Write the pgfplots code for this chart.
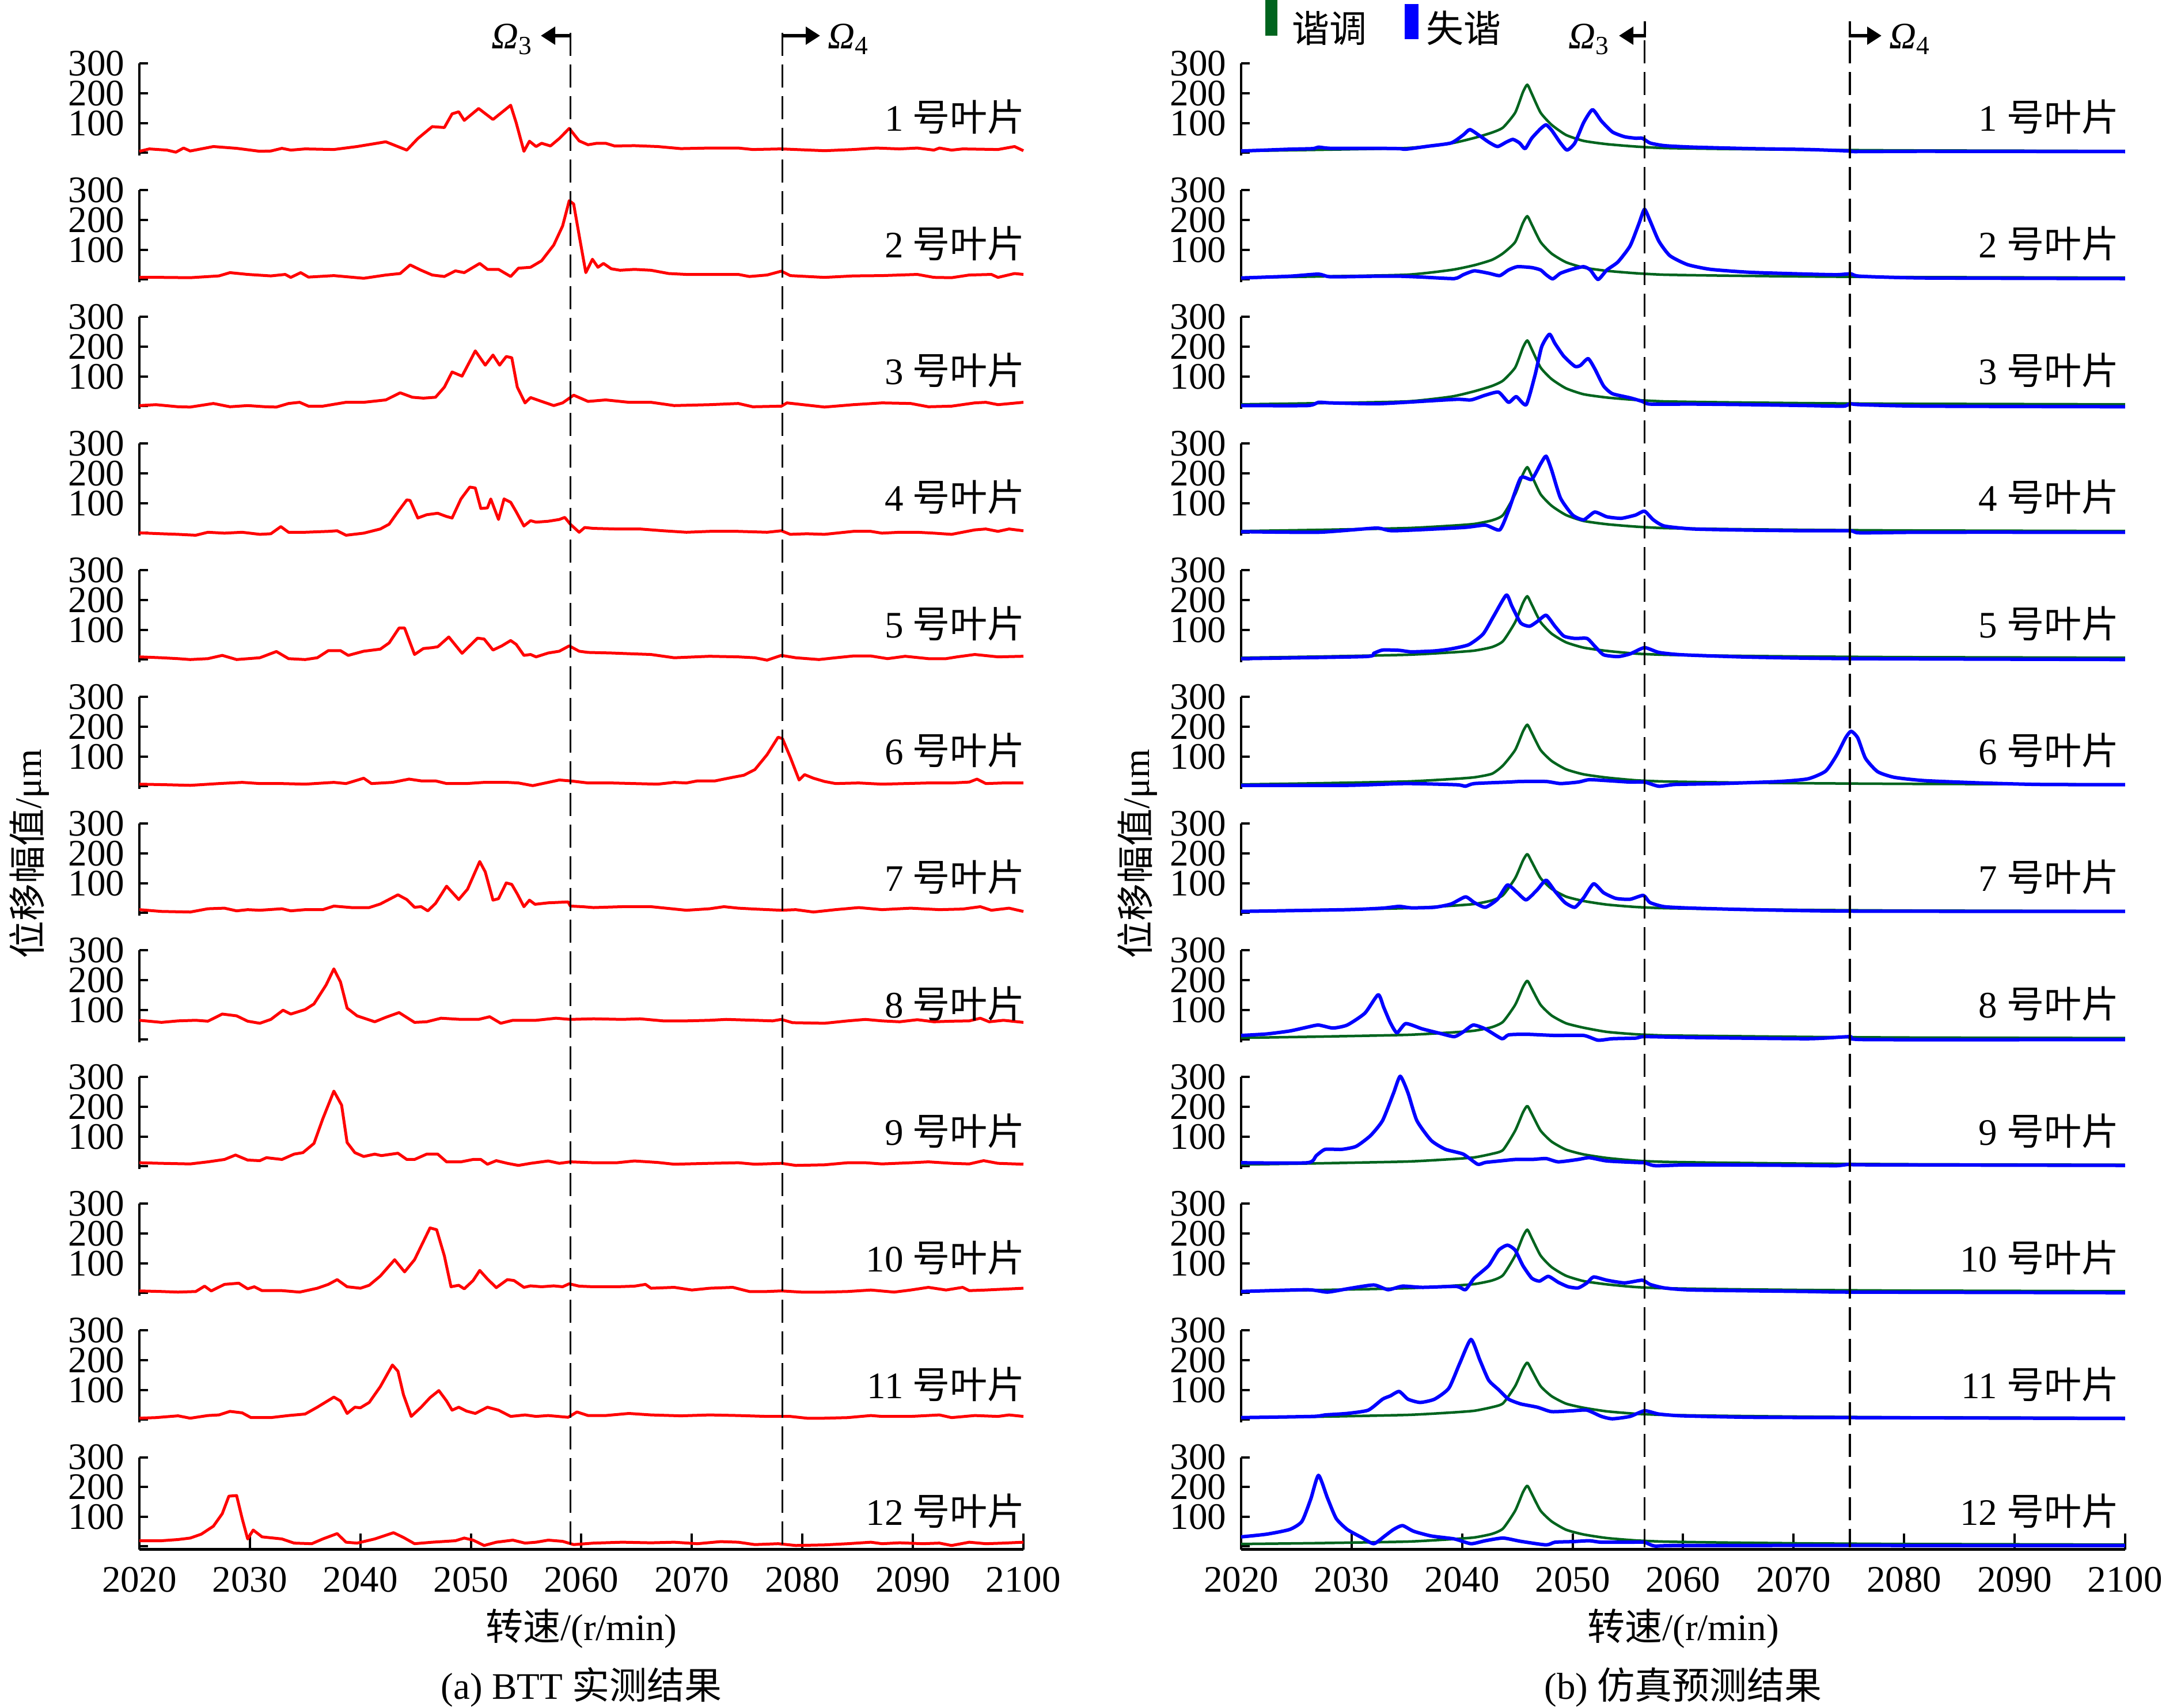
\documentclass[border=0pt]{standalone}
\usepackage{pgfplots}
\pgfplotsset{compat=1.18}
\usepackage{pgfplotstable}
\usepackage{fontspec}
\setmainfont{Liberation Serif}
\newfontfamily\cjk{Noto Sans CJK SC}
\usetikzlibrary{arrows.meta}
\definecolor{myred}{RGB}{255,0,0}
\definecolor{myblue}{RGB}{0,0,255}
\definecolor{mygreen}{RGB}{0,100,30}
\newcommand{\tf}{\fontsize{13}{13}\selectfont}

\pgfplotstableread{
x g1 g2 g3 g4 g5 g6 g7 g8 g9 g10 g11 g12
2020 6 6 6 6 6 6 6 6 6 6 6 8
2027 10 10 10 10 10 10 10 10 10 10 10 11
2035 16 16 16 16 16 16 16 16 16 16 16 16
2039 32 32 32 24 24 24 24 24 24 24 24 24
2041.1 50 48 50 30 30 30 30 30 30 30 30 30
2042.7 68 66 68 42 42 42 42 42 42 42 42 42
2043.7 85 88 86 60 62 70 60 60 55 60 55 60
2044.8 135 126 130 130 126 122 117 117 120 126 113 120
2045.5 204 190 197 197 190 184 176 176 181 190 171 182
2045.9 229 213 221 221 213 207 198 198 203 213 192 204
2046.3 199 185 192 192 185 180 172 172 177 185 167 177
2047.1 135 126 130 130 126 122 117 117 120 126 113 120
2048.1 94 87 91 91 87 85 81 81 83 87 79 84
2049.4 60 58 60 60 58 57 55 55 56 58 54 56
2051 40 40 40 40 40 40 40 40 40 40 40 40
2053.1 29 29 29 29 29 29 28 26 28 29 28 28
2055.7 21 21 21 21 20 20 20 18 19 20 20 20
2058.3 16 16 16 16 16 16 16 14 15 16 16 16
2063.5 13 13 13 13 13 13 13 12 12 13 13 13
2071.3 10 10 10 10 10 10 10 9 9 10 10 10
2080 8 8 8 8 8 8 8 7 7 8 8 8
2090 7 7 7 7 7 7 7 6 6 7 7 7
2100 6 6 6 6 6 6 6 5 5 6 6 6
}\greentab

\tikzset{lbl/.style={anchor=east, inner sep=0pt, font=\tf}}
\pgfplotsset{
  base/.style={
    scale only axis, width=307pt, height=32pt,
    anchor=north west,
    xmin=2020, xmax=2100, ymin=-10, ymax=300,
    axis y line*=left,
    ytick={0,100,200,300}, yticklabels={,100,200,300},
    tick align=inside, major tick length=3pt,
    axis line style={line width=0.8pt, black},
    every tick/.style={black, line width=0.8pt},
    yticklabel style={font=\tf, anchor=east, inner sep=0pt, xshift=-5pt},
    /pgf/number format/assume math mode=true,
    /pgf/number format/1000 sep={},
    clip=false,
  },
  panel/.style={base, axis x line=none},
  bottompanel/.style={
    base,
    axis x line*=bottom,
    x axis line style={line width=1pt},
    xtick={2020,2030,...,2100},
    xtick style={/pgfplots/major tick length=5.5pt},
    xticklabel style={font=\tf, anchor=north, inner sep=0pt, yshift=-6pt},
  },
  redline/.style={myred, line width=1pt, line join=round},
  blueline/.style={myblue, line width=1.2pt, line join=round, smooth, tension=0.35},
  greenline/.style={mygreen, line width=0.9pt, line join=round, smooth, tension=0.35},
}

\begin{document}
\begin{tikzpicture}
\useasboundingbox (0,0) rectangle (756pt,-593.2pt);

% ---------------- left column: BTT measured ----------------
\begin{axis}[panel, at={(48.4pt,-22.1pt)}]
\addplot[redline] coordinates {(2020,5)(2020.9,13)(2022.5,9)(2023.3,2)(2024,16)(2024.6,6)(2026.7,21)(2028.8,15)(2030.9,5)(2031.9,6)(2032.9,15)(2033.7,9)(2035,13)(2037.6,11)(2039.7,21)(2042.3,37)(2044.2,9)(2045.2,48)(2046.5,88)(2047.6,85)(2048.3,131)(2048.9,138)(2049.4,109)(2050.7,149)(2052,112)(2053.6,160)(2054.1,101)(2054.8,5)(2055.3,39)(2055.9,21)(2056.4,32)(2057.2,23)(2058,48)(2058.9,82)(2059.8,40)(2060.6,27)(2061.4,32)(2062.2,32)(2063,23)(2064.8,24)(2066.9,21)(2069,14)(2071.6,16)(2074.2,16)(2075.5,11)(2078.1,13)(2079.4,11)(2082,7)(2084.6,11)(2086.7,16)(2088.8,13)(2090.4,16)(2091.9,9)(2092.4,16)(2093.5,9)(2094.5,13)(2097.7,11)(2099.2,21)(2100,7)};
\node[lbl] at (axis cs:2100.2,120) {1 {\cjk 号叶片}};
\end{axis}

\begin{axis}[panel, at={(48.4pt,-66.1pt)}]
\addplot[redline] coordinates {(2020,7)(2022,7)(2024.6,6)(2027.2,12)(2028.2,23)(2029.8,17)(2031.9,12)(2033.2,17)(2033.7,7)(2034.6,23)(2035.3,8)(2037.6,13)(2040.3,4)(2042.3,15)(2043.6,20)(2044.5,49)(2045.5,31)(2046.5,15)(2047.6,10)(2048.6,29)(2049.4,23)(2050.8,54)(2051.5,34)(2052.5,34)(2053.6,10)(2054.3,38)(2055.4,41)(2056.4,63)(2057.5,116)(2058.3,180)(2058.9,265)(2059.3,254)(2059.8,148)(2060.4,23)(2061,68)(2061.5,41)(2062,54)(2062.7,36)(2063.5,31)(2064.8,34)(2066.3,31)(2067.9,20)(2069.5,17)(2071.6,17)(2074.2,17)(2075.2,10)(2076.8,15)(2078.1,28)(2078.9,13)(2082,7)(2084.6,12)(2087.2,13)(2090.4,17)(2091.9,7)(2093.5,6)(2095.1,15)(2097.1,17)(2097.7,7)(2099.2,20)(2100,17)};
\node[lbl] at (axis cs:2100.2,120) {2 {\cjk 号叶片}};
\end{axis}

\begin{axis}[panel, at={(48.4pt,-110.1pt)}]
\addplot[redline] coordinates {(2020,2)(2021.5,5)(2023.5,-2)(2024.6,-3)(2026.7,9)(2028.2,-2)(2029.8,2)(2031.4,-2)(2032.4,-3)(2033.5,9)(2034.5,13)(2035.3,0)(2036.6,0)(2038.7,13)(2040.3,13)(2042.3,21)(2043.6,45)(2044.7,30)(2045.7,27)(2046.8,30)(2047.6,64)(2048.3,115)(2049.2,101)(2050.4,186)(2051.3,138)(2052,172)(2052.6,138)(2053.2,167)(2053.7,163)(2054.2,64)(2054.9,11)(2055.4,29)(2056.4,16)(2057.5,2)(2058.3,11)(2059.3,37)(2060.6,16)(2062.2,21)(2064.3,13)(2066.3,13)(2068.4,2)(2071.6,5)(2074.2,9)(2075.5,-2)(2078.1,0)(2078.6,11)(2082,-3)(2084.6,5)(2087.2,11)(2089.8,9)(2091.4,-2)(2093.5,0)(2095.6,11)(2096.6,13)(2097.7,5)(2100,13)};
\node[lbl] at (axis cs:2100.2,120) {3 {\cjk 号叶片}};
\end{axis}

\begin{axis}[panel, at={(48.4pt,-154.1pt)}]
\addplot[redline] coordinates {(2020,0)(2022,-3)(2023.5,-5)(2025.1,-8)(2026.2,2)(2027.7,-1)(2029.3,2)(2030.9,-5)(2031.9,-3)(2032.8,21)(2033.5,2)(2035,2)(2037.1,5)(2037.9,7)(2038.7,-8)(2040.3,-1)(2041.8,13)(2042.6,29)(2043.4,71)(2044.2,111)(2044.5,109)(2045.2,50)(2046,61)(2047,66)(2047.8,55)(2048.3,50)(2049.1,114)(2049.9,154)(2050.4,151)(2050.9,82)(2051.5,84)(2051.8,114)(2052.5,45)(2053,114)(2053.6,103)(2054.1,71)(2054.8,23)(2055.4,41)(2055.9,36)(2057,39)(2058,45)(2058.5,52)(2059,29)(2059.8,2)(2060.3,18)(2061.1,15)(2063.2,13)(2065.3,13)(2067.4,7)(2069.5,2)(2071.6,5)(2074.2,5)(2076.8,2)(2078.1,7)(2078.9,-5)(2080.4,-3)(2082,-5)(2084.6,5)(2086.2,5)(2087.2,-1)(2088.8,2)(2090.4,2)(2091.9,-1)(2093.5,-5)(2095.6,10)(2096.6,13)(2097.7,5)(2098.7,13)(2100,7)};
\node[lbl] at (axis cs:2100.2,120) {4 {\cjk 号叶片}};
\end{axis}

\begin{axis}[panel, at={(48.4pt,-198.1pt)}]
\addplot[redline] coordinates {(2020,9)(2022,6)(2023.5,3)(2024.6,0)(2026.2,3)(2027.5,14)(2028.8,0)(2030.9,6)(2032.4,27)(2033.5,3)(2035,0)(2036.1,6)(2037.1,30)(2038.2,30)(2038.9,14)(2040.3,28)(2041.8,35)(2042.6,56)(2043.5,106)(2044,106)(2044.9,17)(2045.7,37)(2046.5,40)(2047,43)(2048,76)(2049.2,21)(2050.6,72)(2051.2,69)(2052,32)(2052.8,46)(2053.6,64)(2054.1,51)(2054.8,14)(2055.4,17)(2055.9,9)(2057,22)(2058,28)(2058.9,46)(2059.8,28)(2060.6,24)(2062.7,22)(2064.8,19)(2066.3,17)(2068.4,6)(2071.6,11)(2074.2,9)(2075.7,6)(2076.8,-2)(2078.1,14)(2079.4,6)(2081.5,0)(2083,6)(2084.6,12)(2086.2,12)(2087.7,3)(2089.3,11)(2091.4,3)(2093,3)(2094,9)(2095.6,17)(2097.7,9)(2100,11)};
\node[lbl] at (axis cs:2100.2,120) {5 {\cjk 号叶片}};
\end{axis}

\begin{axis}[panel, at={(48.4pt,-242.1pt)}]
\addplot[redline] coordinates {(2020,7)(2022.5,5)(2024.6,3)(2027.2,9)(2029.3,13)(2030.9,9)(2032.9,9)(2035,7)(2037.6,13)(2038.7,9)(2040.3,27)(2041,9)(2042.9,13)(2044.4,24)(2045.5,18)(2046.8,18)(2047.8,9)(2049.6,9)(2051.2,13)(2053.3,13)(2054.3,11)(2055.6,2)(2057,13)(2058,21)(2059,18)(2060.6,11)(2062.7,11)(2064.8,9)(2066.9,7)(2068.4,13)(2069.5,11)(2070.5,18)(2072.1,18)(2073.7,30)(2074.7,37)(2075.7,56)(2076.8,106)(2077.8,165)(2078.2,160)(2078.9,98)(2079.7,21)(2080.2,39)(2081,27)(2082,16)(2083,9)(2085.1,11)(2087.2,7)(2089.3,9)(2091.4,11)(2093.5,11)(2095.1,14)(2095.8,24)(2096.6,9)(2098.2,11)(2100,11)};
\node[lbl] at (axis cs:2100.2,120) {6 {\cjk 号叶片}};
\end{axis}

\begin{axis}[panel, at={(48.4pt,-286.1pt)}]
\addplot[redline] coordinates {(2020,11)(2022,5)(2024.6,3)(2026.2,14)(2027.7,16)(2028.8,7)(2029.8,11)(2030.9,9)(2032.9,14)(2033.7,7)(2035,11)(2036.6,11)(2037.6,23)(2039.2,18)(2040.8,18)(2041.8,30)(2043.4,61)(2044.2,45)(2044.9,19)(2045.5,21)(2046.1,7)(2046.8,32)(2047.8,90)(2048.9,45)(2049.7,80)(2050.8,173)(2051.3,138)(2052,43)(2052.5,48)(2053.2,101)(2053.7,96)(2054.2,64)(2054.8,21)(2055.3,43)(2055.8,29)(2057,34)(2058.8,37)(2059,23)(2060.1,21)(2061.1,18)(2063.7,21)(2066.3,21)(2069.5,9)(2071.6,14)(2072.9,21)(2074.2,16)(2075.7,13)(2078.1,9)(2079.4,11)(2081,3)(2083,11)(2085.1,18)(2087.2,11)(2089.8,16)(2092.4,11)(2094.5,13)(2096.1,21)(2097.1,9)(2098.7,16)(2100,5)};
\node[lbl] at (axis cs:2100.2,120) {7 {\cjk 号叶片}};
\end{axis}

\begin{axis}[panel, at={(48.4pt,-330.1pt)}]
\addplot[redline] coordinates {(2020,65)(2022,58)(2023.5,63)(2025.1,65)(2026.2,62)(2027.5,86)(2028.8,80)(2029.8,62)(2030.9,55)(2031.9,68)(2033,99)(2033.7,86)(2035,101)(2035.8,120)(2036.9,184)(2037.6,238)(2038.2,194)(2038.8,106)(2039.7,80)(2041.3,60)(2042.3,75)(2043.5,91)(2044.9,58)(2046,60)(2047.3,72)(2049.1,68)(2050.7,68)(2051.7,77)(2052.7,55)(2053.8,65)(2055.9,65)(2057.7,72)(2059,68)(2061.1,70)(2063.7,68)(2065.3,70)(2067.4,63)(2069.5,63)(2071.6,65)(2073.1,68)(2075.7,65)(2077.3,63)(2078.1,68)(2079.1,57)(2082,55)(2084.1,63)(2085.7,68)(2087.2,63)(2088.8,60)(2090.4,67)(2091.9,60)(2093.5,62)(2095.1,63)(2096.1,72)(2096.9,60)(2098.2,65)(2100,58)};
\node[lbl] at (axis cs:2100.2,120) {8 {\cjk 号叶片}};
\end{axis}

\begin{axis}[panel, at={(48.4pt,-374.1pt)}]
\addplot[redline] coordinates {(2020,12)(2022,10)(2024.6,8)(2026.2,15)(2027.7,23)(2028.7,38)(2029.8,21)(2030.9,19)(2031.5,29)(2032.9,23)(2034,41)(2034.8,46)(2035.8,77)(2036.6,160)(2037.6,253)(2038.3,206)(2038.8,80)(2039.5,46)(2040.3,33)(2041.3,41)(2041.9,36)(2043.4,44)(2044.2,23)(2044.9,23)(2046,41)(2047,41)(2047.8,15)(2049.1,15)(2050.2,23)(2050.9,23)(2051.5,7)(2052.3,19)(2053.3,10)(2054.3,3)(2055.4,10)(2057,18)(2058,10)(2059,15)(2061.1,12)(2063.2,12)(2064.8,18)(2066.9,13)(2068.4,7)(2071.6,10)(2074.2,12)(2075.7,7)(2078.1,10)(2079.4,3)(2082,5)(2084.1,12)(2085.7,12)(2087.2,8)(2089.8,12)(2091.4,15)(2093.5,10)(2095.1,8)(2096.4,19)(2097.7,10)(2100,7)};
\node[lbl] at (axis cs:2100.2,120) {9 {\cjk 号叶片}};
\end{axis}

\begin{axis}[panel, at={(48.4pt,-418.1pt)}]
\addplot[redline] coordinates {(2020,7)(2022,5)(2023.5,3)(2025.1,5)(2025.9,23)(2026.5,7)(2027.7,29)(2029,33)(2029.8,14)(2030.4,21)(2031.1,8)(2032.9,8)(2034.5,3)(2036.1,16)(2037.1,29)(2037.9,45)(2038.8,21)(2040,16)(2040.8,26)(2041.8,57)(2043.1,112)(2044,71)(2044.9,112)(2046.3,219)(2046.9,213)(2047.6,125)(2048.2,21)(2048.9,26)(2049.4,14)(2050.2,42)(2050.8,76)(2051.5,47)(2052.3,18)(2053.3,45)(2053.9,42)(2054.8,19)(2055.4,24)(2056.4,21)(2057.5,24)(2058.3,21)(2058.9,31)(2059.8,23)(2061.1,21)(2063.2,21)(2064.8,23)(2065.8,29)(2066.3,16)(2068.4,19)(2070,10)(2071.6,16)(2073.7,19)(2075.2,5)(2076.8,5)(2078.1,7)(2079.9,3)(2082,3)(2084.1,5)(2086.2,10)(2088.3,3)(2089.8,10)(2091.4,19)(2093,10)(2094.5,19)(2095.1,8)(2096.6,10)(2097.7,12)(2100,16)};
\node[lbl] at (axis cs:2100.2,120) {10 {\cjk 号叶片}};
\end{axis}

\begin{axis}[panel, at={(48.4pt,-462.1pt)}]
\addplot[redline] coordinates {(2020,5)(2021.5,7)(2023.5,13)(2024.6,5)(2026.2,14)(2027.2,16)(2028.2,28)(2029.3,23)(2030.1,7)(2031.9,7)(2033.5,14)(2035,19)(2036.1,42)(2037.6,76)(2038.2,63)(2038.8,21)(2039.5,42)(2040,40)(2040.8,58)(2041.8,111)(2042.9,184)(2043.4,163)(2043.9,84)(2044.6,11)(2045.5,42)(2046.3,74)(2047.1,98)(2047.8,63)(2048.3,32)(2048.9,42)(2049.6,29)(2050.4,21)(2051.5,42)(2052.5,32)(2053.6,11)(2054.9,16)(2055.9,11)(2057,14)(2058.8,8)(2059.6,26)(2060.6,14)(2062.2,14)(2064.3,21)(2066.3,16)(2069,13)(2071.6,16)(2074.2,14)(2076.8,11)(2078.9,11)(2080.4,5)(2082,5)(2084.1,7)(2086.2,14)(2087.2,11)(2089.8,11)(2092.4,16)(2093.5,7)(2095.6,14)(2097.7,11)(2098.7,16)(2100,11)};
\node[lbl] at (axis cs:2100.2,120) {11 {\cjk 号叶片}};
\end{axis}

\begin{axis}[bottompanel, at={(48.4pt,-506.1pt)}]
\addplot[redline] coordinates {(2020,19)(2022,19)(2023.5,23)(2024.6,28)(2025.6,41)(2026.7,68)(2027.5,110)(2028.1,169)(2028.8,171)(2029.3,94)(2029.8,25)(2030.3,55)(2031.1,32)(2032.9,25)(2034,11)(2035.6,9)(2036.6,25)(2037.9,43)(2038.7,14)(2039.7,11)(2041.3,25)(2043,46)(2043.9,30)(2044.9,9)(2046.5,14)(2048.6,19)(2049.4,28)(2050.2,21)(2051.2,3)(2052.3,14)(2053.8,21)(2054.9,11)(2055.9,14)(2057,21)(2058.3,17)(2059.3,6)(2061.1,11)(2063.7,14)(2066.3,12)(2068.4,14)(2070.5,9)(2072.6,16)(2074.2,14)(2075.7,6)(2077.8,9)(2079.4,3)(2082,5)(2084.1,9)(2086.2,14)(2087.2,9)(2088.8,12)(2090.9,9)(2092.4,11)(2093.5,3)(2095.1,14)(2096.6,9)(2098.2,11)(2100,14)};
\node[lbl] at (axis cs:2100.2,120) {12 {\cjk 号叶片}};
\end{axis}

% ---------------- right column: simulation ----------------
\begin{axis}[panel, at={(431pt,-22.1pt)}]
\addplot[greenline] table[x=x,y=g1]{\greentab};
\addplot[blueline] coordinates {(2020,6)(2024.4,12)(2026.5,14)(2027,19)(2028.1,15)(2032.2,15)(2034.3,14)(2034.9,12)(2036.9,22)(2039,33)(2040.1,60)(2040.7,78)(2041.6,57)(2042.4,36)(2043.2,21)(2044,36)(2044.6,45)(2045.2,33)(2045.7,14)(2046.3,49)(2047.1,81)(2047.6,94)(2048.1,76)(2048.9,33)(2049.5,9)(2050.2,33)(2051,102)(2051.8,145)(2052.6,107)(2053.6,70)(2054.7,54)(2055.7,49)(2056.3,49)(2057,33)(2058.3,24)(2060.9,19)(2066.1,14)(2071.3,11)(2075.1,6)(2075.5,4)(2081.8,5)(2100,4)};
\node[lbl] at (axis cs:2099.5,120) {1 {\cjk 号叶片}};
\end{axis}

\begin{axis}[panel, at={(431pt,-66.1pt)}]
\addplot[greenline] table[x=x,y=g2]{\greentab};
\addplot[blueline] coordinates {(2020,5)(2024.4,11)(2027,18)(2028.1,9)(2032.2,11)(2034.3,11)(2036.4,8)(2039.3,3)(2040.1,16)(2041.1,29)(2042.4,21)(2043.4,13)(2044.2,32)(2045,43)(2046.3,40)(2047.1,32)(2047.6,16)(2048.2,2)(2048.9,21)(2050,35)(2051,43)(2051.6,32)(2052.3,0)(2053.1,32)(2054.1,59)(2055.2,113)(2056,188)(2056.5,236)(2057,198)(2057.8,129)(2058.8,80)(2060.4,50)(2062.5,34)(2066.1,24)(2071.3,18)(2073.9,16)(2075.2,19)(2076,11)(2081.8,5)(2100,3)};
\node[lbl] at (axis cs:2099.5,120) {2 {\cjk 号叶片}};
\end{axis}

\begin{axis}[panel, at={(431pt,-110.1pt)}]
\addplot[greenline] table[x=x,y=g3]{\greentab};
\addplot[blueline] coordinates {(2020,2)(2026,2)(2027,13)(2028.1,11)(2032.2,8)(2034.9,13)(2039.5,23)(2040.8,21)(2042.1,37)(2043.3,47)(2044.2,13)(2044.9,32)(2045.8,5)(2046.6,105)(2047.2,200)(2047.9,242)(2048.4,211)(2049.2,168)(2050.2,134)(2050.7,137)(2051.4,160)(2052,126)(2052.8,68)(2053.6,42)(2055.2,28)(2056.3,16)(2057,7)(2060.9,7)(2066.1,5)(2071.3,2)(2074.5,0)(2075.1,8)(2076,5)(2081.8,0)(2100,-2)};
\node[lbl] at (axis cs:2099.5,120) {3 {\cjk 号叶片}};
\end{axis}

\begin{axis}[panel, at={(431pt,-154.1pt)}]
\addplot[greenline] table[x=x,y=g4]{\greentab};
\addplot[blueline] coordinates {(2020,4)(2027,2)(2032.2,16)(2033.8,7)(2040.1,18)(2042.1,26)(2043.4,10)(2044.2,75)(2045.3,185)(2046.3,180)(2047.1,232)(2047.6,258)(2048.1,211)(2048.9,117)(2050,60)(2051,44)(2052,70)(2053.1,54)(2054.4,49)(2055.7,60)(2056.5,73)(2057.3,44)(2058.3,23)(2060.9,13)(2066.1,9)(2071.3,7)(2075.1,7)(2076,0)(2081.8,2)(2100,2)};
\node[lbl] at (axis cs:2099.5,120) {4 {\cjk 号叶片}};
\end{axis}

\begin{axis}[panel, at={(431pt,-198.1pt)}]
\addplot[greenline] table[x=x,y=g5]{\greentab};
\addplot[blueline] coordinates {(2020,3)(2031.2,10)(2032,21)(2032.8,32)(2034.3,31)(2035.4,26)(2037.5,29)(2039,36)(2040.6,50)(2041.9,86)(2042.9,149)(2044,217)(2044.5,180)(2045.3,123)(2046.1,112)(2046.8,128)(2047.6,149)(2048.4,112)(2049.2,79)(2050.2,71)(2051.3,71)(2052,45)(2052.8,16)(2054.1,10)(2055.2,19)(2056.5,40)(2057.8,24)(2059.9,16)(2066.1,8)(2075.1,3)(2100,0)};
\node[lbl] at (axis cs:2099.5,120) {5 {\cjk 号叶片}};
\end{axis}

\begin{axis}[panel, at={(431pt,-242.1pt)}]
\addplot[greenline] table[x=x,y=g6]{\greentab};
\addplot[blueline] coordinates {(2020,3)(2029.6,3)(2034.9,9)(2039.5,5)(2040.3,0)(2041.1,9)(2044.2,14)(2045.3,16)(2047.6,16)(2048.9,9)(2050.5,14)(2051.5,22)(2053.1,19)(2055.2,14)(2056.5,14)(2057.8,0)(2059.3,6)(2063.5,9)(2068.7,16)(2071.3,25)(2072.9,51)(2073.9,105)(2074.7,163)(2075.2,185)(2075.8,163)(2076.5,94)(2077.6,49)(2079.1,30)(2081.8,19)(2087,11)(2092.2,6)(2100,5)};
\node[lbl] at (axis cs:2099.5,120) {6 {\cjk 号叶片}};
\end{axis}

\begin{axis}[panel, at={(431pt,-286.1pt)}]
\addplot[greenline] table[x=x,y=g7]{\greentab};
\addplot[blueline] coordinates {(2020,5)(2029.6,11)(2032.8,16)(2034.3,22)(2035.4,17)(2037.5,19)(2039,30)(2040.3,54)(2041.1,35)(2042.1,19)(2043.2,46)(2044.1,94)(2045,68)(2045.8,44)(2046.8,78)(2047.6,110)(2048.4,73)(2049.3,35)(2050.2,19)(2051,51)(2051.9,98)(2052.8,68)(2053.9,49)(2055.2,46)(2056.4,59)(2057,35)(2058.3,21)(2060.9,16)(2066.1,11)(2075.1,6)(2100,5)};
\node[lbl] at (axis cs:2099.5,120) {7 {\cjk 号叶片}};
\end{axis}

\begin{axis}[panel, at={(431pt,-330.1pt)}]
\addplot[greenline] table[x=x,y=g8]{\greentab};
\addplot[blueline] coordinates {(2020,14)(2022.3,19)(2024.4,29)(2026,42)(2027,49)(2028.3,39)(2029.6,49)(2031.2,89)(2032.4,151)(2032.9,109)(2033.5,57)(2034.1,23)(2034.9,54)(2036.4,36)(2038,21)(2039.3,10)(2040.1,26)(2041,49)(2042.1,36)(2043.6,3)(2044.2,16)(2045.8,18)(2048.4,14)(2051,14)(2052.3,-2)(2053.6,3)(2055.7,5)(2056.5,10)(2060.9,7)(2071.3,3)(2075.1,10)(2076.5,0)(2100,0)};
\node[lbl] at (axis cs:2099.5,120) {8 {\cjk 号叶片}};
\end{axis}

\begin{axis}[panel, at={(431pt,-374.1pt)}]
\addplot[greenline] table[x=x,y=g9]{\greentab};
\addplot[blueline] coordinates {(2020,12)(2026,12)(2026.8,36)(2027.6,57)(2029.1,57)(2030.4,67)(2031.7,103)(2032.8,154)(2033.8,247)(2034.4,303)(2035.1,247)(2035.9,154)(2037.2,87)(2038.5,57)(2040.1,41)(2041.4,7)(2042.1,13)(2043.4,18)(2044.8,23)(2046.3,23)(2047.6,26)(2048.7,15)(2050.5,23)(2051.5,29)(2053.1,18)(2055.7,13)(2056.5,12)(2057.5,2)(2060.9,5)(2071.3,3)(2073.9,2)(2075.1,7)(2076.5,5)(2100,3)};
\node[lbl] at (axis cs:2099.5,120) {9 {\cjk 号叶片}};
\end{axis}

\begin{axis}[panel, at={(431pt,-418.1pt)}]
\addplot[greenline] table[x=x,y=g10]{\greentab};
\addplot[blueline] coordinates {(2020,5)(2026,11)(2027.8,3)(2029.6,14)(2032,27)(2033.3,11)(2034.6,23)(2036.4,19)(2039.5,22)(2040.3,11)(2041.1,50)(2042.4,92)(2043.3,144)(2044.1,161)(2044.8,144)(2045.5,92)(2046.3,50)(2047,40)(2047.8,56)(2048.7,36)(2049.6,21)(2050.5,17)(2051.3,34)(2051.9,54)(2053.1,43)(2054.7,34)(2056.3,43)(2057,29)(2058.3,17)(2060.9,10)(2071.3,5)(2075.1,3)(2100,1)};
\node[lbl] at (axis cs:2099.5,120) {10 {\cjk 号叶片}};
\end{axis}

\begin{axis}[panel, at={(431pt,-462.1pt)}]
\addplot[greenline] table[x=x,y=g11]{\greentab};
\addplot[blueline] coordinates {(2020,7)(2026.5,11)(2027.6,16)(2029.6,21)(2031.5,32)(2032.8,69)(2033.5,80)(2034.3,95)(2035.1,69)(2036.2,58)(2037.5,69)(2038.8,106)(2039.8,191)(2040.8,270)(2041.6,201)(2042.4,133)(2043.3,101)(2044.2,69)(2045.3,53)(2046.8,42)(2048.1,27)(2050,30)(2051.3,32)(2052.6,11)(2053.6,3)(2055.2,11)(2056.5,30)(2057.8,19)(2059.9,13)(2066.1,8)(2075.1,7)(2100,4)};
\node[lbl] at (axis cs:2099.5,120) {11 {\cjk 号叶片}};
\end{axis}

\begin{axis}[bottompanel, at={(431pt,-506.1pt)}]
\addplot[greenline] table[x=x,y=g12]{\greentab};
\addplot[blueline] coordinates {(2020,32)(2022.3,41)(2024.4,57)(2025.5,84)(2026.3,159)(2027,239)(2027.8,164)(2028.6,94)(2029.6,57)(2030.9,30)(2032,9)(2033,35)(2033.8,57)(2034.6,70)(2035.6,51)(2037.2,35)(2039.3,25)(2040.8,9)(2042.1,19)(2043.7,28)(2045.3,17)(2047.6,5)(2048.4,14)(2050,16)(2051.5,19)(2052.6,14)(2055.2,14)(2056.5,14)(2057.5,1)(2060.9,3)(2100,3)};
\node[lbl] at (axis cs:2099.5,120) {12 {\cjk 号叶片}};
\end{axis}

% ---------------- annotations ----------------
\tikzset{dl/.style={black, line width=0.7pt, dash pattern=on 8pt off 3pt}}
\draw[dl] (198.1pt,-11.4pt) -- (198.1pt,-537.5pt);
\draw[dl] (271.7pt,-11.4pt) -- (271.7pt,-537.5pt);
\draw[dl] (571.1pt,-14pt) -- (571.1pt,-537.5pt);
\draw[dl] (642.4pt,-14pt) -- (642.4pt,-537.5pt);

\tikzset{arr/.style={black, line width=1.3pt, -{Triangle[length=5pt,width=6pt]}}}
\draw[arr] (198.1pt,-12.4pt) -- (187.8pt,-12.4pt);
\draw[arr] (271.7pt,-12.4pt) -- (284.8pt,-12.4pt);
\draw[black, line width=0.8pt] (571.1pt,-7.4pt) -- (571.1pt,-12.4pt);
\draw[arr] (571.5pt,-12.4pt) -- (562.2pt,-12.4pt);
\draw[black, line width=0.8pt] (642.4pt,-7.4pt) -- (642.4pt,-12.4pt);
\draw[arr] (642pt,-12.4pt) -- (653.4pt,-12.4pt);

\node[anchor=base east, inner sep=0pt, font=\tf] at (185.4pt,-17pt) {\textit{Ω}\textsubscript{3}};
\node[anchor=base west, inner sep=0pt, font=\tf] at (287.2pt,-17pt) {\textit{Ω}\textsubscript{4}};
\node[anchor=base east, inner sep=0pt, font=\tf] at (559.4pt,-17pt) {\textit{Ω}\textsubscript{3}};
\node[anchor=base west, inner sep=0pt, font=\tf] at (655.8pt,-17pt) {\textit{Ω}\textsubscript{4}};

% legend
\fill[mygreen] (439.4pt,0pt) rectangle (443.6pt,-12.4pt);
\node[anchor=west, inner sep=0pt, font=\tf\cjk] at (448.4pt,-9.8pt) {谐调};
\fill[myblue] (487.8pt,-1.4pt) rectangle (492.6pt,-13.6pt);
\node[anchor=west, inner sep=0pt, font=\tf\cjk] at (495pt,-9.8pt) {失谐};

% axis labels
\node[rotate=90, inner sep=0pt, font=\tf] at (10.2pt,-296.6pt) {{\cjk 位移幅值}/μm};
\node[rotate=90, inner sep=0pt, font=\tf] at (395pt,-296.6pt) {{\cjk 位移幅值}/μm};
\node[inner sep=0pt, font=\tf] at (201.9pt,-565.6pt) {{\cjk 转速}/(r/min)};
\node[inner sep=0pt, font=\tf] at (584.5pt,-565.6pt) {{\cjk 转速}/(r/min)};
\node[inner sep=0pt, font=\tf] at (201.9pt,-586pt) {(a) BTT {\cjk 实测结果}};
\node[inner sep=0pt, font=\tf] at (584.5pt,-586pt) {(b) {\cjk 仿真预测结果}};
\end{tikzpicture}
\end{document}
